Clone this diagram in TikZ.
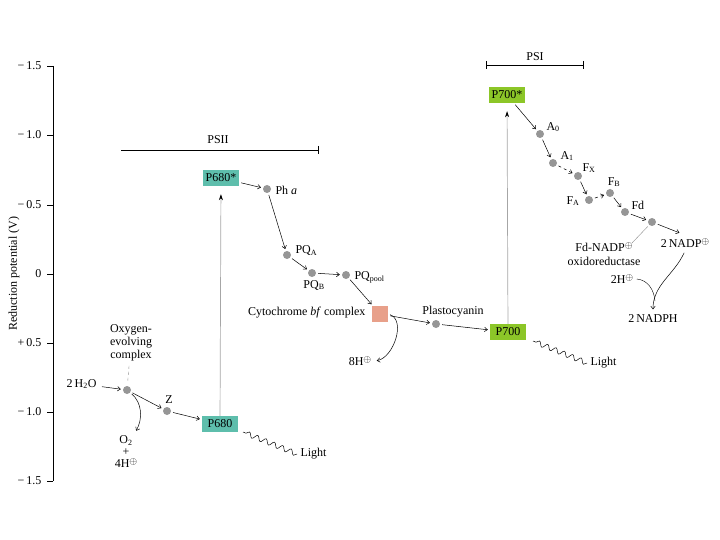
\documentclass[tikz,border=0pt]{standalone}
\usepackage{fontspec}
\setmainfont{Liberation Serif}
\usetikzlibrary{arrows.meta,decorations.pathmorphing}
\definecolor{psiiteal}{RGB}{94,190,172}
\definecolor{psigreen}{RGB}{140,198,40}
\definecolor{cytsalmon}{RGB}{232,160,138}
\definecolor{dotgray}{RGB}{150,150,150}
\newcommand{\pcharge}{\raisebox{0.55ex}{\fontsize{10}{10}\selectfont$\oplus$}}
\begin{document}
\begin{tikzpicture}[x=1pt, y=-1pt, font=\fontsize{12}{13}\selectfont,
    carrier/.style={circle, fill=dotgray, inner sep=0pt, minimum size=8pt},
    centre/.style={inner sep=2pt, minimum width=36pt, minimum height=16pt},
    flow/.style={-{Straight Barb[length=3pt,width=4.5pt]}, line width=0.5pt, shorten <=2pt, shorten >=2pt},
    excite/.style={draw=black!35, line width=0.7pt, -{Stealth[color=black,length=6pt,width=4pt]}, shorten >=8pt},
    lightwave/.style={decorate, decoration={snake, amplitude=2.5pt, segment length=9pt}, line width=0.5pt}]
     \useasboundingbox (0, 0) rectangle (720, 540);
         \draw(53, 66) to (53, 481);
             \foreach \y/\t in {66/−\,1.5, 135/−\,1.0, 205/−\,0.5, 274/0, 343/+\,0.5, 412/−\,1.0, 481/−\,1.5}{
                 \draw(47, \y) to (53, \y);
                 \node[anchor=east] at (45, \y){\t};
             }
             \node[rotate=90] at (14, 274){Reduction potential (V)};
         \draw(121, 150) to (318, 150);
             \draw(318, 146) to (318, 154);
             \node at (218, 140){PSII};
         \draw(486, 65) to (583, 65);
             \draw(486, 61) to (486, 69);
             \draw(583, 61) to (583, 69);
             \node at (535, 57){PSI};

         \node[centre, fill=psiiteal] (p680) at (220, 424){P680};
         \node[centre, fill=psiiteal] (p680s) at (221, 178){P680*};
         \node[centre, fill=psigreen] (p700) at (508, 332){P700};
         \node[centre, fill=psigreen] (p700s) at (507, 95){P700*};
         \node[fill=cytsalmon, minimum size=16pt, inner sep=0pt] (cyt) at (380, 314){};

         \node[carrier] (oec) at (127, 390){};
             \node[align=center] (oectag) at (131, 343){Oxygen-\\evolving\\complex};
             \node[anchor=east] (water) at (100, 384){2\,H\textsubscript{2}O};
             \node[align=center] (otwo) at (126, 452){O\textsubscript{2}\\[-1pt]+\\[-1pt]4H\pcharge};
         \node[carrier] (z) at (167, 411){};
             \node at (169, 400){Z};
         \node[carrier] (pha) at (267, 189){};
             \node[anchor=west] at (272, 190){Ph \textit{a}};
         \node[carrier] (pqa) at (287, 255){};
             \node[anchor=west] at (292, 251){PQ\textsubscript{A}};
         \node[carrier] (pqb) at (312, 273){};
             \node at (314, 285){PQ\textsubscript{B}};
         \node[carrier] (pqpool) at (346, 275){};
             \node[anchor=west] at (351, 277){PQ\textsubscript{pool}};
         \node[anchor=east] at (369, 313){Cytochrome \textit{bf} complex};
         \node (hcyt) at (360, 361){8H\pcharge};
         \node[carrier] (pc) at (436, 324){};
             \node at (453, 312){Plastocyanin};
         \node[anchor=west] (lighta) at (297, 454){Light};
             \coordinate (p680glow) at (243, 432);
         \node[anchor=west] (lightb) at (587, 363){Light};
             \coordinate (p700glow) at (533, 341);

         \node[carrier] (a0) at (540, 134){};
             \node[anchor=west] at (543, 127){A\textsubscript{0}};
         \node[carrier] (a1) at (553, 163){};
             \node[anchor=west] at (557, 156){A\textsubscript{1}};
         \node[carrier] (fx) at (578, 176){};
             \node[anchor=west] at (579, 168){F\textsubscript{X}};
         \node[carrier] (fa) at (589, 200){};
             \node[anchor=east] at (583, 201){F\textsubscript{A}};
         \node[carrier] (fb) at (610, 193){};
             \node at (614, 182){F\textsubscript{B}};
         \node[carrier] (fd) at (625, 212){};
             \node[anchor=west] at (628, 205){Fd};
         \node[carrier] (fnr) at (652, 222){};
             \node[align=center] at (604, 254){Fd-NADP\pcharge\\[1pt]oxidoreductase};
             \coordinate (fnrtag) at (632, 243);
         \node (nadp) at (685, 243){2\,NADP\pcharge};
         \node (hplus) at (622, 279){2H\pcharge};
             \coordinate (nadpjoin) at (655, 301);
         \node (nadph) at (653, 319){2\,NADPH};

         \draw[flow] (water) to (oec);
         \draw[dashed, black!45, shorten <=1pt, shorten >=4pt] (oectag) to (oec);
         \draw[flow] (oec) to (z);
         \draw[flow] (oec.-40) to[out=-40, in=60] (otwo.65);
         \draw[flow] (z) to (p680);
         \draw[excite] (p680) to (p680s);
         \draw[lightwave] (lighta.west) to (p680glow);
         \draw[flow] (p680s) to (pha);
         \draw[flow] (pha) to (pqa);
         \draw[flow] (pqa) to (pqb);
         \draw[flow] (pqb) to (pqpool);
         \draw[flow] (pqpool) to (cyt);
         \draw[flow] (cyt) to (pc);
         \draw[flow] (cyt.east) to[out=-20, in=10] (hcyt.east);
         \draw[flow] (pc) to (p700);
         \draw[excite] (p700) to (p700s);
         \draw[lightwave] (lightb.west) to (p700glow);
         \draw[flow] (p700s) to (a0);
         \draw[flow] (a0) to (a1);
         \draw[flow, dashed] (a1) to (fx);
         \draw[flow] (fx) to (fa);
         \draw[flow, dashed] (fa) to (fb);
         \draw[flow] (fb) to (fd);
         \draw[flow] (fd) to (fnr);
         \draw[black!45, shorten <=2pt] (fnr) to (fnrtag);
         \draw[flow, shorten >=6pt] (fnr) to (nadp.north);
         \draw[flow] (nadp.south) to[out=-115, in=90] (nadph.north);
         \draw (hplus.east) to[out=-5, in=95] (nadpjoin);
     \end{tikzpicture}
\end{document}
